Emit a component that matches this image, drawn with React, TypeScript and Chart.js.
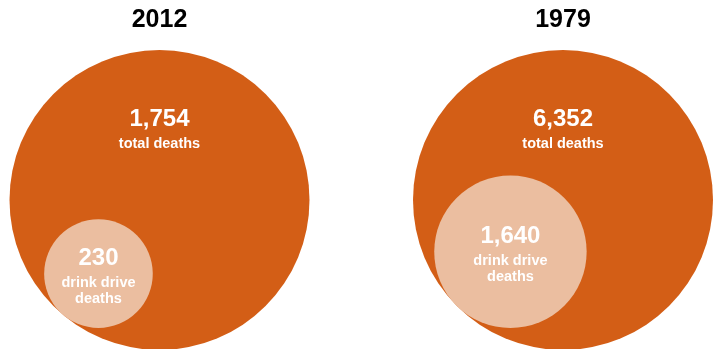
import React, { useEffect, useRef } from "react";
import { Chart, registerables } from "chart.js";

Chart.register(...registerables);

// ---- data ----
const years = ["2012", "1979"];
const totalDeaths = [1754, 6352];
const drinkDriveDeaths = [230, 1640];
const totalLabel = "total deaths";
const drinkLabelLines = ["drink drive", "deaths"];

// ---- layout / style ----
const W = 715;
const H = 349;
const PANEL_X = [159.5, 563];
const CENTER_Y = 200;
const BIG_R = 150;
const BOTTOM_GAP = 22;
const ORANGE = "rgb(211,94,22)";
const LIGHT = "rgb(235,190,160)";
const FONT = "'Liberation Sans', Arial, sans-serif";

const fmt = (n: number) => n.toLocaleString("en-US");

function smallBubble(i: number) {
  const r = BIG_R * Math.sqrt(drinkDriveDeaths[i] / totalDeaths[i]);
  const d = BIG_R - r; // internally tangent
  const dy = BIG_R - BOTTOM_GAP - r;
  const dx = Math.sqrt(Math.max(d * d - dy * dy, 0));
  return { x: PANEL_X[i] - dx, y: CENTER_Y + dy, r };
}

const labelPlugin = {
  id: "circleLabels",
  afterDatasetsDraw(chart: any) {
    const ctx = chart.ctx;
    const bigMeta = chart.getDatasetMeta(0);
    const smallMeta = chart.getDatasetMeta(1);
    ctx.save();
    ctx.textAlign = "center";
    ctx.textBaseline = "alphabetic";
    years.forEach((yr, i) => {
      const big = bigMeta.data[i];
      const sm = smallMeta.data[i];
      // title
      ctx.fillStyle = "#000";
      ctx.font = `bold 25px ${FONT}`;
      ctx.fillText(yr, big.x, 27);
      // total
      ctx.fillStyle = "#fff";
      ctx.font = `bold 24px ${FONT}`;
      ctx.fillText(fmt(totalDeaths[i]), big.x, big.y - 74);
      ctx.font = `bold 14.5px ${FONT}`;
      ctx.fillText(totalLabel, big.x, big.y - 52);
      // drink drive
      ctx.font = `bold 24px ${FONT}`;
      ctx.fillText(fmt(drinkDriveDeaths[i]), sm.x, sm.y - 8.5);
      ctx.font = `bold 14.5px ${FONT}`;
      ctx.fillText(drinkLabelLines[0], sm.x, sm.y + 13.5);
      ctx.fillText(drinkLabelLines[1], sm.x, sm.y + 29.5);
    });
    ctx.restore();
  },
};

export default function App() {
  const ref = useRef<HTMLCanvasElement | null>(null);
  useEffect(() => {
    if (!ref.current) return;
    const chart = new Chart(ref.current, {
      type: "bubble",
      data: {
        datasets: [
          {
            label: "total deaths",
            data: years.map((_, i) => ({ x: PANEL_X[i], y: CENTER_Y, r: BIG_R })),
            backgroundColor: ORANGE,
            borderWidth: 0,
            order: 1,
            clip: false,
          },
          {
            label: "drink drive deaths",
            data: years.map((_, i) => smallBubble(i)),
            backgroundColor: LIGHT,
            borderWidth: 0,
            order: 0,
            clip: false,
          },
        ],
      },
      options: {
        animation: false,
        responsive: false,
        events: [],
        layout: { padding: 0, autoPadding: false },
        plugins: { legend: { display: false }, tooltip: { enabled: false } },
        scales: {
          x: { type: "linear", min: 0, max: W, display: false },
          y: { type: "linear", min: 0, max: H, reverse: true, display: false },
        },
      },
      plugins: [labelPlugin],
    });
    return () => chart.destroy();
  }, []);
  return (
    <div style={{ position: "fixed", left: 0, top: 0, width: W, height: H, background: "#fff" }}>
      <canvas ref={ref} width={W} height={H} style={{ display: "block", width: W, height: H }} />
    </div>
  );
}
